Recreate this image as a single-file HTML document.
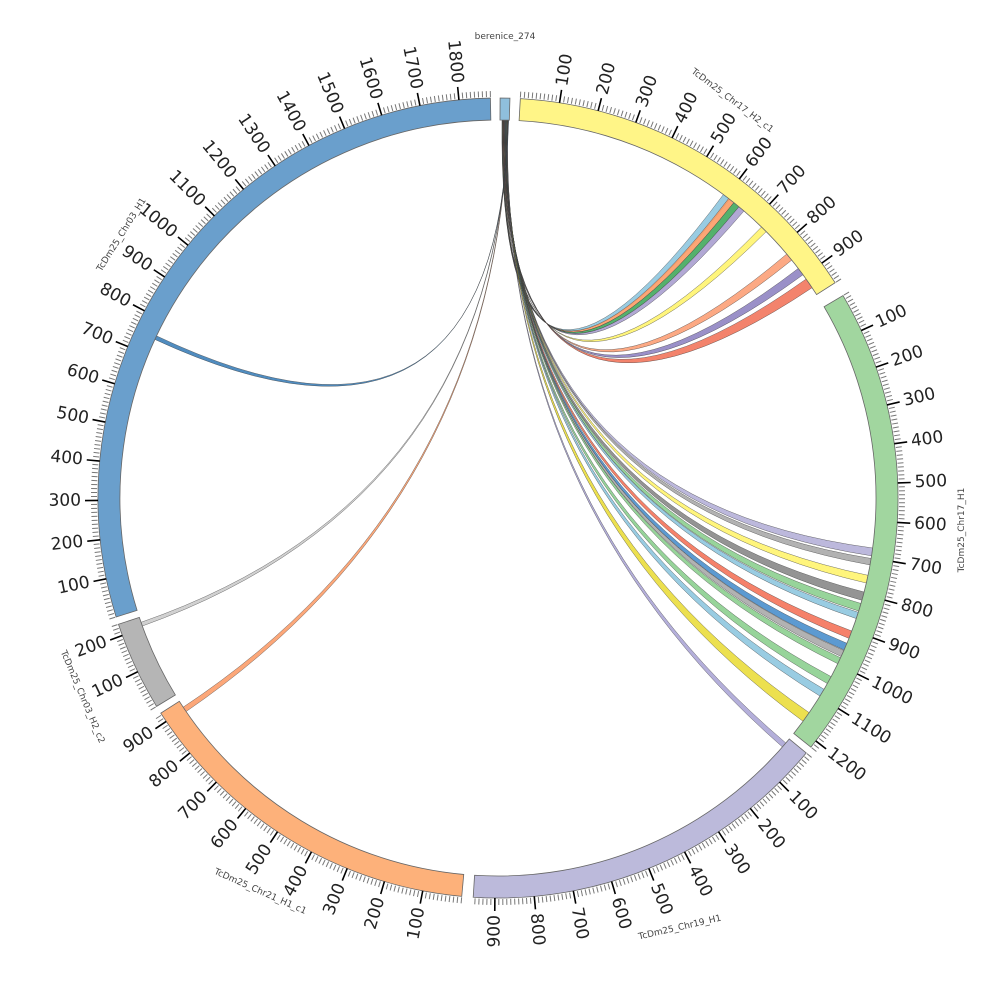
<!DOCTYPE html>
<html><head><meta charset="utf-8"><style>
html,body{margin:0;padding:0;background:#fff;}
svg{display:block;font-family:"DejaVu Sans","Liberation Sans",sans-serif;}
</style></head><body>
<svg id="s" width="1000" height="1000" viewBox="0 0 1000 1000" xmlns="http://www.w3.org/2000/svg"></svg>
<script>
const CX=498,CY=498,RO=400,RI=378,K=17.7;
const svg=document.getElementById('s');
function P(a,r){const t=a*Math.PI/180;return [CX+r*Math.sin(t),CY-r*Math.cos(t)];}
function f(p){return p[0].toFixed(2)+','+p[1].toFixed(2);}
let out='';
const segs=[
 {s:0.3,len:25,c:'#8fbfdc',tick:false},
 {s:3.2,len:960,c:'#fff587'},
 {s:59.6,len:1220,c:'#a1d69f'},
 {s:129.6,len:955,c:'#bcbadb'},
 {s:185.2,len:925,c:'#fdb17a'},
 {s:238.6,len:230,c:'#b5b5b5'},
 {s:252.7,len:1880,c:'#6a9fcc'}
];
const links=[
 [36.6,1.2,'#8ec7df'],[37.6,1.0,'#fc9c66'],[38.6,1.0,'#41a85c'],[39.6,1.0,'#a99fcf'],
 [44.2,1.0,'#fff46e'],[49.8,1.2,'#fca077'],[52.6,1.2,'#8f84c2'],[54.6,1.6,'#f2755c'],
 [97.6,1.2,'#b5b0d8'],[99.2,1.0,'#aaaaaa'],[101.8,1.2,'#fff46e'],[104.4,1.3,'#888888'],
 [106.2,1.2,'#8ccf8f'],[107.6,1.0,'#8ec7df'],[110.6,1.2,'#f4735a'],[112.6,1.1,'#4a8fcc'],
 [113.8,1.0,'#aaaaaa'],[115.0,1.0,'#8ccf8f'],[118.2,1.2,'#8ccf8f'],[120.4,1.2,'#8ec7df'],
 [124.6,1.6,'#eadd3c'],[130.4,0.8,'#aca6d6'],[235.6,0.8,'#fc9d6a'],[250.2,0.6,'#cccccc'],
 [294.8,0.6,'#3d7fb8']
];
links.forEach((l,i)=>{
 const s1=0.6+i*0.04,s2=s1+0.06;
 const t1=l[0],t2=l[0]+l[1];
 const a=P(s1,RI),b=P(s2,RI),c=P(t1,RI),d=P(t2,RI);
 const ctl=CX+','+CY;
 out+=`<path d="M${f(a)} A${RI},${RI} 0 0 1 ${f(b)} Q${ctl} ${f(c)} A${RI},${RI} 0 0 1 ${f(d)} Q${ctl} ${f(a)} Z" fill="${l[2]}" stroke="#333" stroke-width="0.35" fill-opacity="0.9"/>`;
});
segs.forEach(g=>{
 const e=g.s+g.len/K;
 const a=P(g.s,RO),b=P(e,RO),c=P(e,RI),d=P(g.s,RI);
 const lg=(e-g.s)>180?1:0;
 out+=`<path d="M${f(a)} A${RO},${RO} 0 ${lg} 1 ${f(b)} L${f(c)} A${RI},${RI} 0 ${lg} 0 ${f(d)} Z" fill="${g.c}" stroke="#666" stroke-width="0.8"/>`;
 if(g.tick===false)return;
 for(let v=0;v<=g.len;v+=10){
  const an=g.s+v/K;
  if(v%100===0&&v>0){
   const p1=P(an,RO),p2=P(an,RO+13);
   out+=`<line x1="${p1[0].toFixed(2)}" y1="${p1[1].toFixed(2)}" x2="${p2[0].toFixed(2)}" y2="${p2[1].toFixed(2)}" stroke="#000" stroke-width="1.6"/>`;
   const p=P(an,RO+17);
   if(an<180) out+=`<text x="${p[0].toFixed(1)}" y="${p[1].toFixed(1)}" font-size="17" fill="#222" dominant-baseline="central" transform="rotate(${(an-90).toFixed(2)} ${p[0].toFixed(1)} ${p[1].toFixed(1)})">${v}</text>`;
   else out+=`<text x="${p[0].toFixed(1)}" y="${p[1].toFixed(1)}" font-size="17" fill="#222" text-anchor="end" dominant-baseline="central" transform="rotate(${(an+90).toFixed(2)} ${p[0].toFixed(1)} ${p[1].toFixed(1)})">${v}</text>`;
  } else {
   const p1=P(an,RO+1),p2=P(an,RO+7);
   out+=`<line x1="${p1[0].toFixed(2)}" y1="${p1[1].toFixed(2)}" x2="${p2[0].toFixed(2)}" y2="${p2[1].toFixed(2)}" stroke="#777" stroke-width="1"/>`;
  }
 }
});
const names=[
 [505,37,0,'berenice_274'],
 [732,101,37,'TcDm25_Chr17_H2_c1'],
 [962,530,-90,'TcDm25_Chr17_H1'],
 [680,928,-13,'TcDm25_Chr19_H1'],
 [260,892,24,'TcDm25_Chr21_H1_c1'],
 [82,697,67,'TcDm25_Chr03_H2_c2'],
 [122,235,-58,'TcDm25_Chr03_H1']
];
names.forEach(n=>{
 out+=`<text x="${n[0]}" y="${n[1]}" font-size="9" fill="#444" text-anchor="middle" dominant-baseline="central" transform="rotate(${n[2]} ${n[0]} ${n[1]})">${n[3]}</text>`;
});
svg.innerHTML=out;
</script>
</body></html>
